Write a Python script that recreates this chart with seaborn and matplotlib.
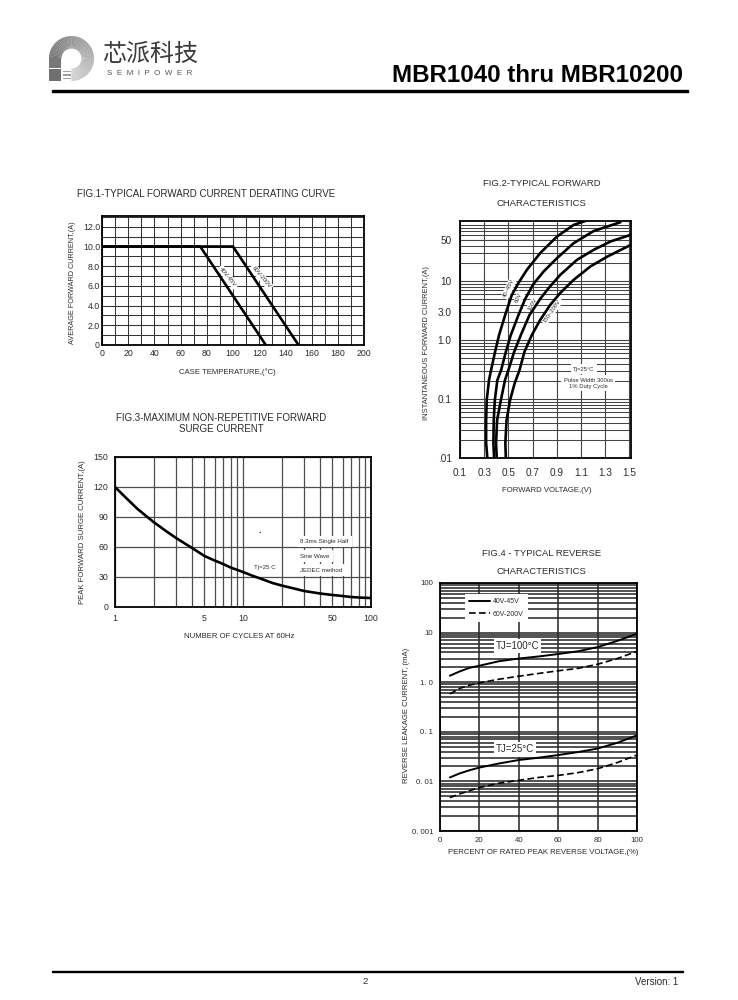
import numpy as np
import pandas as pd
import matplotlib
matplotlib.use("Agg")
import matplotlib.pyplot as plt
from matplotlib.patches import Wedge, Rectangle
from matplotlib.ticker import LogLocator, NullFormatter
import seaborn as sns

W, H = 738, 1000
INK = "#2b2b2b"

# fig 1 - derating
derate_temp_low = [0, 75, 125]
derate_cur_low = [10, 10, 0]
derate_temp_high = [0, 100, 150]
derate_cur_high = [10, 10, 0]

# fig 2 - forward characteristics
fwd_v_1 = [0.326, 0.316, 0.316, 0.321, 0.340, 0.357, 0.390, 0.423, 0.473, 0.528, 0.583, 0.653, 0.763, 0.901, 1.039, 1.136]
fwd_i_1 = [0.01, 0.018, 0.044, 0.096, 0.21, 0.31, 0.634, 1.22, 2.65, 5.8, 9.3, 15.6, 29.9, 57, 90, 105]
fwd_v_2 = [0.382, 0.376, 0.379, 0.388, 0.409, 0.44, 0.479, 0.520, 0.583, 0.639, 0.708, 0.790, 0.901, 1.039, 1.205, 1.426]
fwd_i_2 = [0.01, 0.018, 0.044, 0.096, 0.21, 0.31, 0.634, 1.22, 2.65, 5.0, 9, 14.5, 24.5, 44, 71, 100]
fwd_v_3 = [0.404, 0.398, 0.407, 0.438, 0.472, 0.500, 0.548, 0.603, 0.674, 0.763, 0.832, 0.929, 1.067, 1.205, 1.343, 1.509]
fwd_i_3 = [0.01, 0.018, 0.044, 0.096, 0.21, 0.31, 0.634, 1.22, 2.65, 5.0, 7.6, 12.8, 23, 34, 47, 61]
fwd_v_4 = [0.479, 0.475, 0.485, 0.514, 0.552, 0.592, 0.633, 0.694, 0.763, 0.846, 0.929, 1.039, 1.177, 1.316, 1.509]
fwd_i_4 = [0.01, 0.018, 0.044, 0.096, 0.185, 0.31, 0.634, 1.22, 2.2, 3.96, 6.3, 10.5, 17.7, 26, 41]

# fig 3 - surge current
surge_cycles = [1, 1.2, 1.5, 2, 2.5, 3, 4, 5, 6, 7, 8, 10, 12, 14, 17, 20, 25, 30, 40, 50, 60, 70, 85, 100]
surge_amps = [120, 110, 98, 85, 76, 69, 59, 51, 46.5, 43, 39.5, 35, 31, 28, 24, 21.5, 18.5, 16, 13.5, 12, 11, 10, 9.3, 9]

# fig 4 - reverse leakage
rev_pct = [5, 10, 15, 20, 30, 40, 50, 60, 70, 80, 90, 100]
rev_100_low = [1.35, 1.65, 1.95, 2.15, 2.65, 3.0, 3.3, 3.7, 4.2, 5.1, 6.8, 9.5]
rev_100_high = [0.58, 0.75, 0.87, 0.97, 1.15, 1.32, 1.5, 1.7, 1.9, 2.3, 3.0, 4.2]
rev_25_low = [0.012, 0.0145, 0.0168, 0.019, 0.023, 0.027, 0.03, 0.034, 0.039, 0.046, 0.06, 0.085]
rev_25_high = [0.0047, 0.0056, 0.0065, 0.0075, 0.0092, 0.0105, 0.012, 0.0132, 0.015, 0.018, 0.024, 0.034]

sns.set_style("white")
plt.rcParams["font.family"] = ["Liberation Sans", "Noto Sans CJK SC", "DejaVu Sans"]
plt.rcParams["text.color"] = INK

fig = plt.figure(figsize=(W / 100, H / 100), dpi=100, facecolor="white")


def px_axes(left, top, right, bottom):
    return fig.add_axes([left / W, 1 - bottom / H, (right - left) / W, (bottom - top) / H])


def label(x, y, s, size=5.6, rotation=0, ax=None, pad=None, **kw):
    # with ax given the white box sits over the grid but under the curves
    if pad is not None:
        kw["bbox"] = dict(facecolor="white", edgecolor="none", pad=pad)
    target = fig if ax is None else ax
    if ax is not None:
        kw["transform"] = fig.transFigure
        kw["zorder"] = 1.5
    target.text(x / W, 1 - y / H, s, fontsize=size, rotation=rotation,
                rotation_mode="anchor", ha=kw.pop("ha", "center"), va="center",
                color=kw.pop("color", INK), **kw)


def curve(ax, xs, ys, lw=1.9, **kw):
    df = pd.DataFrame({"x": xs, "y": ys})
    sns.lineplot(data=df, x="x", y="y", ax=ax, color="black", lw=lw,
                 sort=False, estimator=None, **kw)


def finish(ax, lw=1.3):
    ax.set_xlabel("")
    ax.set_ylabel("")
    for s in ax.spines.values():
        s.set_visible(True)
        s.set_color("black")
        s.set_linewidth(lw)
    ax.tick_params(which="both", length=0, labelsize=6.3, labelcolor=INK)


# fig 1
ax1 = px_axes(102, 216, 364, 345)
curve(ax1, derate_temp_high, derate_cur_high)
curve(ax1, derate_temp_low, derate_cur_low)
ax1.set_xlim(0, 200)
ax1.set_ylim(0, 13.1)
ax1.set_xticks(np.arange(0, 201, 20))
ax1.set_xticks(np.arange(0, 201, 10), minor=True)
ax1.set_yticks([0, 2, 4, 6, 8, 10, 12], ["0", "2.0", "4.0", "6.0", "8.0", "10.0", "12.0"])
ax1.set_yticks(np.arange(0, 14), minor=True)
ax1.grid(which="both", color="#333333", lw=0.75)
ax1.set_axisbelow(True)
finish(ax1)
ax1.tick_params(axis="x", pad=3)
ax1.tick_params(axis="y", pad=1.5)
label(206.5, 194, "FIG.1-TYPICAL FORWARD CURRENT DERATING CURVE", size=7)
label(72, 283, "AVERAGE FORWARD CURRENT,(A)", size=5.2, rotation=90)
label(227, 372, "CASE TEMPERATURE,(°C)")
label(228, 277, "40V-45V", size=4.4, rotation=-50, ax=ax1, pad=1)
label(261.5, 277, "60V-200V", size=4.4, rotation=-50, ax=ax1, pad=1)

# fig 2
ax2 = px_axes(460, 221, 631, 458)
for vs, cur in [(fwd_v_1, fwd_i_1), (fwd_v_2, fwd_i_2), (fwd_v_3, fwd_i_3), (fwd_v_4, fwd_i_4)]:
    curve(ax2, vs, cur)
ax2.set_yscale("log")
ax2.set_xlim(0.1, 1.514)
ax2.set_ylim(0.01, 105)
ax2.set_xticks(np.arange(0.1, 1.51, 0.2), ["0.1", "0.3", "0.5", "0.7", "0.9", "1.1", "1.3", "1.5"])
ax2.set_yticks([0.01, 0.1, 1, 3, 10, 50], [".01", "0.1", "1.0", "3.0", "10", "50"])
ax2.yaxis.set_minor_locator(LogLocator(base=10, subs=np.arange(2, 10), numticks=12))
ax2.yaxis.set_minor_formatter(NullFormatter())
ax2.grid(which="major", axis="both", color="#444444", lw=0.8)
ax2.grid(which="minor", axis="y", color="#444444", lw=0.75)
ax2.set_axisbelow(True)
finish(ax2)
ax2.tick_params(axis="x", labelsize=7.2, pad=7)
ax2.tick_params(axis="y", labelsize=7.2, pad=6)
label(541.5, 184, "FIG.2-TYPICAL FORWARD", size=6.8)
label(541.5, 203, "CHARACTERISTICS", size=6.8)
label(426, 343, "INSTANTANEOUS FORWARD CURRENT,(A)", size=5.4, rotation=90)
label(547, 491, "FORWARD VOLTAGE,(V)")
label(509, 288, "40~45V", size=4.2, rotation=65, ax=ax2, pad=1)
label(519, 298, "60V", size=4.2, rotation=65, ax=ax2, pad=1)
label(532.5, 304, "100V", size=4.2, rotation=60, ax=ax2, pad=1)
label(552, 311, "150~200V", size=4.2, rotation=55, ax=ax2, pad=1)
label(584, 369, "Tj=25°C", size=4.2, ax=ax2, pad=1.5)
label(588, 380, "Pulse Width 300us", size=4.2, ax=ax2, pad=1.5)
label(588, 386.5, "1% Duty Cycle", size=4.2, ax=ax2, pad=1.5)

# fig 3
ax3 = px_axes(115, 457, 371, 607)
curve(ax3, surge_cycles, surge_amps)
ax3.set_xscale("log")
ax3.set_xlim(1, 100)
ax3.set_ylim(0, 150)
ax3.set_xticks([1, 5, 10, 50, 100], ["1", "5", "10", "50", "100"])
ax3.xaxis.set_minor_locator(LogLocator(base=10, subs=np.arange(2, 10), numticks=6))
ax3.xaxis.set_minor_formatter(NullFormatter())
ax3.set_yticks(np.arange(0, 151, 30))
ax3.grid(which="both", color="#4d4d4d", lw=0.9)
ax3.set_axisbelow(True)
finish(ax3)
ax3.tick_params(axis="x", pad=5)
ax3.tick_params(axis="y", pad=5)
label(221, 418, "FIG.3-MAXIMUM NON-REPETITIVE FORWARD", size=7)
label(221, 429, "SURGE CURRENT", size=7)
label(83, 532, "PEAK FORWARD SURGE CURRENT,(A)", rotation=90)
label(239, 636, "NUMBER OF CYCLES AT 60Hz")
label(264.5, 567, "Tj=25 C", size=4.4, ax=ax3, pad=2)
label(300, 541.5, "8.3ms Single Half", size=4.4, ax=ax3, pad=2.5, ha="left")
label(300, 556, "Sine Wave", size=4.4, ax=ax3, pad=2.5, ha="left")
label(300, 570, "JEDEC method", size=4.4, ax=ax3, pad=2.5, ha="left")
label(260, 530, ".", size=7, fontweight="bold")

# fig 4
ax4 = px_axes(440, 583, 637, 831)
curve(ax4, rev_pct, rev_100_low, lw=1.4, label="40V-45V")
curve(ax4, rev_pct, rev_100_high, lw=1.2, label="60V-200V", dashes=(4, 2))
curve(ax4, rev_pct, rev_25_low, lw=1.4)
curve(ax4, rev_pct, rev_25_high, lw=1.2, dashes=(4, 2))
ax4.set_yscale("log")
ax4.set_xlim(0, 100)
ax4.set_ylim(0.001, 100)
ax4.set_xticks(np.arange(0, 101, 20))
ax4.set_yticks([0.001, 0.01, 0.1, 1, 10, 100], ["0. 001", "0. 01", "0. 1", "1. 0", "10", "100"])
ax4.yaxis.set_minor_locator(LogLocator(base=10, subs=np.arange(2, 10), numticks=12))
ax4.yaxis.set_minor_formatter(NullFormatter())
ax4.grid(which="both", color="#2a2a2a", lw=1.15)
ax4.set_axisbelow(True)
finish(ax4)
ax4.legend(loc="upper left", bbox_to_anchor=(0.125, 0.955), frameon=True, framealpha=1,
           facecolor="white", edgecolor="none", fancybox=False, fontsize=5.0,
           handlelength=3.1, handletextpad=0.4, labelspacing=0.75, borderpad=0.6,
           borderaxespad=0)
ax4.tick_params(axis="x", labelsize=5.6, pad=4)
ax4.tick_params(axis="y", labelsize=5.6, pad=5)
label(541.5, 553, "FIG.4 - TYPICAL REVERSE", size=6.8)
label(541.5, 572, "CHARACTERISTICS", size=6.8)
label(407, 715, "REVERSE LEAKAGE CURRENT, (mA)", rotation=90)
label(543, 852, "PERCENT OF RATED PEAK REVERSE VOLTAGE,(%)")
label(517.5, 646, "TJ=100°C", size=7, ax=ax4, pad=1.5)
label(515, 749.5, "TJ=25°C", size=7, ax=ax4, pad=1.5)

# header, footer, logo
deco = fig.add_axes([0, 0, 1, 1], facecolor="none", zorder=-1)
deco.set_xlim(0, W)
deco.set_ylim(H, 0)
deco.axis("off")
deco.add_patch(Rectangle((52, 90), 636, 2.4, color="black"))
deco.add_patch(Rectangle((52, 970.5), 631, 1.6, color="black"))

# y runs downward here, so the ring sweeps clockwise from left to bottom
for a in range(180, 450, 5):
    grey = str(round(0.47 + 0.36 * (a - 180) / 270, 3))
    deco.add_patch(Wedge((71.5, 58.5), 22.5, a, a + 5.5, width=12.5, color=grey, lw=0))
deco.add_patch(Rectangle((49, 58), 12, 9.5, color="#787878", lw=0))
deco.add_patch(Rectangle((49, 69), 12, 12, color="#707070", lw=0))
for yy in (70.5, 74, 77.5):
    deco.add_patch(Rectangle((62.5, yy), 8.5, 1.8, color="#a0a0a0", lw=0))

label(150, 55, "芯派科技", size=17.3, color="#3a3a3a")
label(150, 73.5, "S  E  M  I  P  O  W  E  R", size=5.8, color="#555555")
label(683, 75, "MBR1040 thru MBR10200", size=17.4, fontweight="bold", ha="right", color="black")
label(365, 982, "2", size=6.8)
label(678, 982, "Version: 1", size=7, ha="right")

fig.savefig("out.png", dpi=100, facecolor="white")
